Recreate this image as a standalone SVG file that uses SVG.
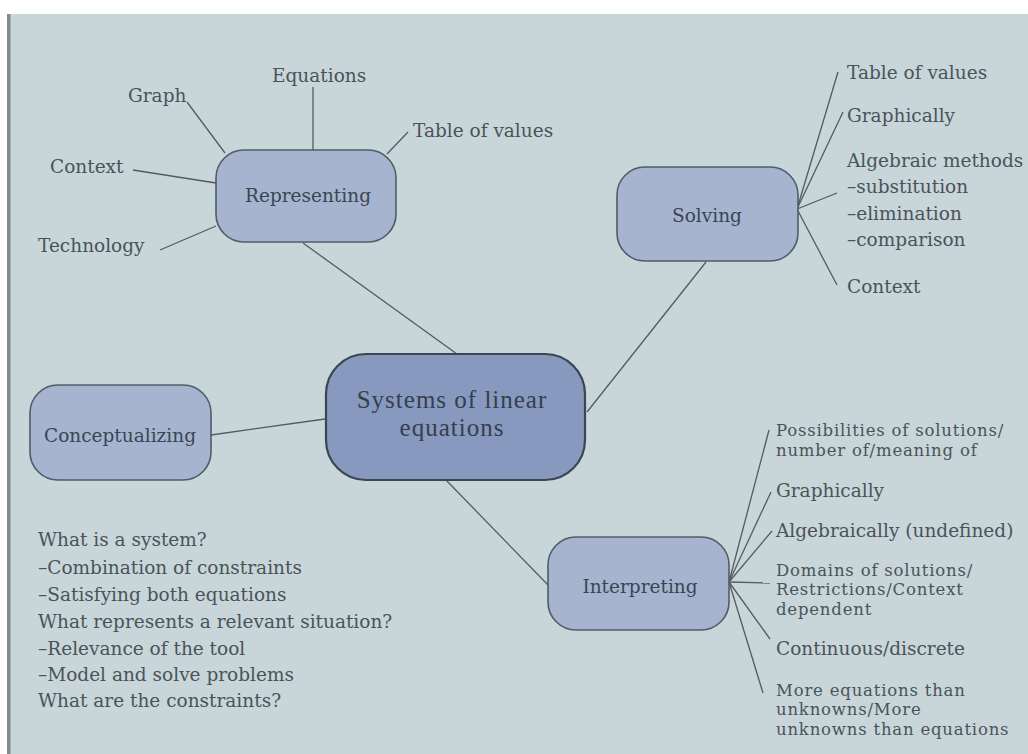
<svg xmlns="http://www.w3.org/2000/svg" width="1028" height="754" viewBox="0 0 1028 754">
<style>
.box{fill:#a6b4cf;stroke:#505c68;stroke-width:1.6}
.main{fill:#8799be;stroke:#3c4652;stroke-width:2.2}
.nt{font-family:"DejaVu Serif",serif;font-size:18.5px;fill:#3b4552;text-anchor:middle}
.ct{font-family:"Liberation Serif",serif;font-size:25px;letter-spacing:1px;fill:#34404c;text-anchor:middle}
.lb{font-family:"DejaVu Serif",serif;font-size:18.5px;fill:#4a5358}
.ml{font-family:"DejaVu Serif",serif;font-size:16.5px;letter-spacing:0.8px;fill:#4a5358}
.ln{stroke:#535b61;stroke-width:1.3;fill:none}
</style>
<rect x="0" y="0" width="1028" height="754" fill="#ffffff"/>
<rect x="7" y="14" width="1021" height="740" fill="#c8d6da"/>
<rect x="7" y="14" width="3.5" height="740" fill="#7e8b90"/>

<g id="connectors">
<line class="ln" x1="303" y1="243" x2="457" y2="354"/>
<line class="ln" x1="706" y1="262" x2="587" y2="412"/>
<line class="ln" x1="211" y1="435" x2="325" y2="419"/>
<line class="ln" x1="446" y1="480" x2="548" y2="585"/>
<line class="ln" x1="187" y1="102" x2="225" y2="153"/>
<line class="ln" x1="313" y1="87" x2="313" y2="150"/>
<line class="ln" x1="408" y1="132" x2="387" y2="154"/>
<line class="ln" x1="133" y1="170" x2="216" y2="183"/>
<line class="ln" x1="160" y1="250" x2="216" y2="226"/>
<line class="ln" x1="797" y1="209" x2="838" y2="72"/>
<line class="ln" x1="797" y1="209" x2="843" y2="112"/>
<line class="ln" x1="797" y1="209" x2="837" y2="193"/>
<line class="ln" x1="797" y1="209" x2="837" y2="285"/>
<line class="ln" x1="729" y1="582" x2="769" y2="430"/>
<line class="ln" x1="729" y1="582" x2="771" y2="492"/>
<line class="ln" x1="729" y1="582" x2="772" y2="531"/>
<line class="ln" x1="729" y1="582" x2="770" y2="583"/>
<line class="ln" x1="729" y1="582" x2="770" y2="639"/>
<line class="ln" x1="729" y1="582" x2="763" y2="693"/>
</g>

<g id="central">
<rect class="main" x="326" y="354" width="259" height="126" rx="40"/>
<text class="ct" x="452" y="408">Systems of linear</text>
<text class="ct" x="452" y="436">equations</text>
</g>

<g id="representing">
<rect class="box" x="216" y="150" width="180" height="92" rx="28"/>
<text class="nt" x="308" y="202">Representing</text>
</g>

<g id="solving">
<rect class="box" x="617" y="167" width="181" height="94" rx="28"/>
<text class="nt" x="707" y="222">Solving</text>
</g>

<g id="conceptualizing">
<rect class="box" x="30" y="385" width="181" height="95" rx="28"/>
<text class="nt" x="120" y="442">Conceptualizing</text>
</g>

<g id="interpreting">
<rect class="box" x="548" y="537" width="181" height="93" rx="28"/>
<text class="nt" x="640" y="593">Interpreting</text>
</g>

<g id="representing-labels">
<text class="lb" x="128" y="102">Graph</text>
<text class="lb" x="272" y="82">Equations</text>
<text class="lb" x="413" y="137">Table of values</text>
<text class="lb" x="50" y="173">Context</text>
<text class="lb" x="38" y="252">Technology</text>
</g>

<g id="solving-labels">
<text class="lb" x="847" y="79">Table of values</text>
<text class="lb" x="847" y="122">Graphically</text>
<text class="lb" x="847" y="167">Algebraic methods</text>
<text class="lb" x="847" y="193">–substitution</text>
<text class="lb" x="847" y="220">–elimination</text>
<text class="lb" x="847" y="246">–comparison</text>
<text class="lb" x="847" y="293">Context</text>
</g>

<g id="interpreting-labels">
<text class="ml" x="776" y="436">Possibilities of solutions/</text>
<text class="ml" x="776" y="455.5">number of/meaning of</text>
<text class="lb" x="776" y="497">Graphically</text>
<text class="lb" x="776" y="537">Algebraically (undefined)</text>
<text class="ml" x="776" y="575.5">Domains of solutions/</text>
<text class="ml" x="776" y="595">Restrictions/Context</text>
<text class="ml" x="776" y="614.5">dependent</text>
<text class="lb" x="776" y="655">Continuous/discrete</text>
<text class="ml" x="776" y="695.5">More equations than</text>
<text class="ml" x="776" y="715">unknowns/More</text>
<text class="ml" x="776" y="734.5">unknowns than equations</text>
</g>

<g id="conceptualizing-notes">
<text class="lb" x="38" y="546">What is a system?</text>
<text class="lb" x="38" y="574">–Combination of constraints</text>
<text class="lb" x="38" y="601">–Satisfying both equations</text>
<text class="lb" x="38" y="628">What represents a relevant situation?</text>
<text class="lb" x="38" y="655">–Relevance of the tool</text>
<text class="lb" x="38" y="681">–Model and solve problems</text>
<text class="lb" x="38" y="707">What are the constraints?</text>
</g>
</svg>
